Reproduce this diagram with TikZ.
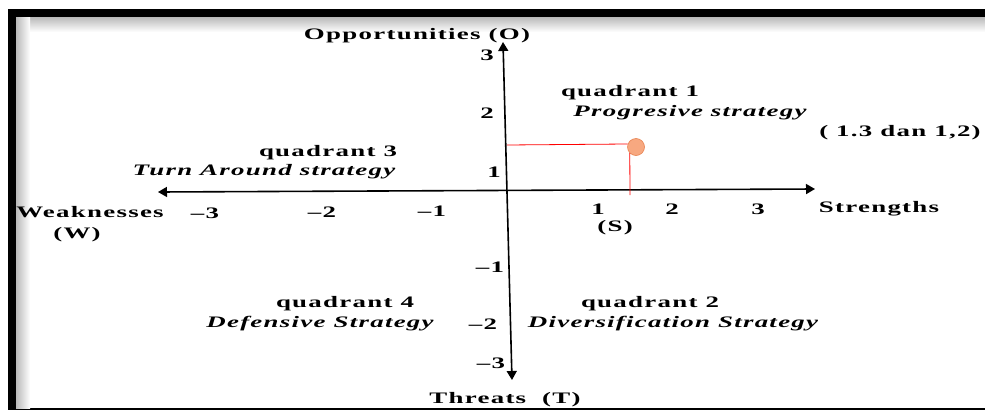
\documentclass[tikz,border=0pt]{standalone}
\usepackage{fontspec}
\setmainfont{Liberation Serif}
\newfontfamily\chartfont[FakeStretch=1.68,LetterSpace=8]{Liberation Serif}
\usetikzlibrary{
    arrows.meta,
    positioning
}
\definecolor{dotfill}{RGB}{247,168,128}
\definecolor{dotedge}{RGB}{232,130,80}

\begin{document}
\begin{tikzpicture}[
    x=1pt, y=-1pt,
    every node/.style={font=\chartfont\bfseries\fontsize{16pt}{18pt}\selectfont, inner sep=0pt, yshift=-2pt},
    strat/.style={font=\chartfont\bfseries\itshape\fontsize{16pt}{18pt}\selectfont},
    axis/.style={line width=1.6pt, {Triangle[length=9pt,width=10pt]}-{Triangle[length=9pt,width=10pt]}},
    guide/.style={draw=red, line width=0.8pt},
    point/.style={circle, draw=dotedge, fill=dotfill, line width=0.6pt, minimum size=17pt}
]
\useasboundingbox (0,0) rectangle (985,410);

% frame
\fill[black] (8,9) rectangle (985,410);
\fill[white] (16,17) rectangle (985,408);
\shade[top color=gray!55, bottom color=white] (16,17) rectangle (985,32);
\shade[left color=gray!55, right color=white] (16,17) rectangle (30,408);

% axes
\coordinate (west) at (158,190);
\coordinate (east) at (815,187);
\coordinate (north) at (503,40);
\coordinate (south) at (512,378);
\draw[axis] (west) -- (east);
\draw[axis] (north) -- (south);

% axis names
\node (opp) at (417,34) {Opportunities (O)};
\node (thr) at (505,398) {Threats\ \ (T)};
\node (weak) at (90,210) {Weaknesses};
\node (wk) at (77,233) {(W)};
\node (strg) at (879,207) {Strengths};
\node (sg) at (615,226) {(S)};

% tick labels
\foreach \px/\py/\t [count=\i] in {205/211/–3, 322/210/–2, 432/209/–1, 598/207/1, 672/207/2, 758/207/3}
    \node (xt\i) at (\px,\py) {\t};
\foreach \px/\py/\t [count=\i] in {487/53/3, 487/111/2, 494/170/1, 490/265/–1, 483/322/–2, 491/361/–3}
    \node (yt\i) at (\px,\py) {\t};

% quadrants
\node (q1) at (630,91) {quadrant 1};
\node[strat] (q1s) at (690,111) {Progresive strategy};
\node (q3) at (328,151) {quadrant 3};
\node[strat] (q3s) at (264,170) {Turn Around strategy};
\node (q4) at (345,302) {quadrant 4};
\node[strat] (q4s) at (320,322) {Defensive Strategy};
\node (q2) at (650,302) {quadrant 2};
\node[strat] (q2s) at (673,322) {Diversification Strategy};

% position
\node[point] (pt) at (636,145) {};
\coordinate (oy) at (507,143);
\coordinate (ox) at (630,193);
\draw[guide] (oy) -- (pt.160);
\draw[guide] (ox) -- (pt.225);
\node (val) at (900,131) {( 1.3 dan 1,2)};

\end{tikzpicture}
\end{document}
